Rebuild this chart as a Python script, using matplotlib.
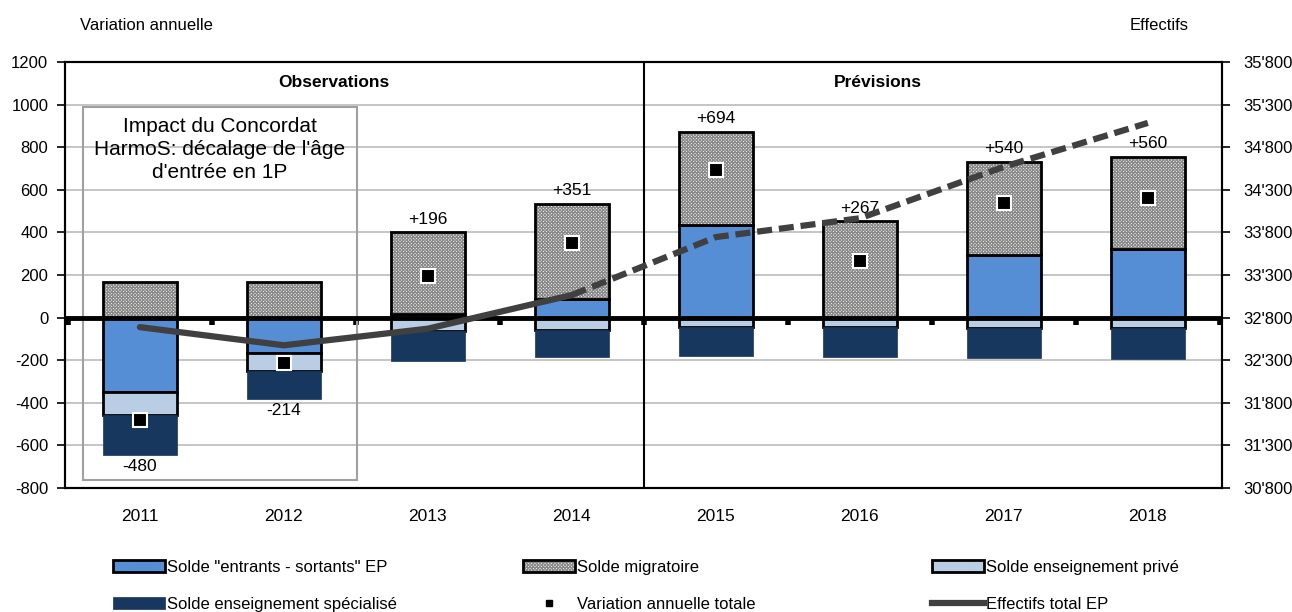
import matplotlib
matplotlib.use("Agg")
import matplotlib.pyplot as plt
import numpy as np
from matplotlib.patches import Rectangle
from matplotlib.lines import Line2D
from matplotlib.ticker import FuncFormatter, FixedLocator

# ---------------- data ----------------
years = ["2011", "2012", "2013", "2014", "2015", "2016", "2017", "2018"]
solde_es = [-350, -168, 16, 85, 437, 0, 294, 320]        # Solde "entrants - sortants" EP
solde_migr = [165, 168, 385, 450, 435, 452, 438, 434]     # Solde migratoire
solde_prive = [-105, -84, -65, -60, -45, -45, -50, -50]   # Solde enseignement privé
solde_spec = [-190, -130, -140, -124, -133, -140, -142, -144]  # Solde enseignement spécialisé
variation_totale = [-480, -214, 196, 351, 694, 267, 540, 560]
effectifs = [32688, 32475, 32670, 33065, 33745, 33966, 34570, 35085]
n_obs = 4  # 2011-2014 observed

left_ticks = list(range(-800, 1201, 200))
right_ticks = list(range(30800, 35801, 500))

# ---------------- style ----------------
FONT = ["Liberation Sans", "DejaVu Sans"]
plt.rcParams["font.family"] = FONT
plt.rcParams["hatch.linewidth"] = 0.9
plt.rcParams["axes.unicode_minus"] = False

C_BLUE = "#558ED5"
C_LIGHT = "#B9CDE5"
C_DARK = "#17375E"
C_LINE = "#404040"
C_GRID = "#C0C0C0"
C_HATCH = "#8A8A8A"
HATCH = "xxxxxxxxxx"
FS = 12

fig = plt.figure(figsize=(12.92, 6.12), dpi=100)
ax = fig.add_axes([65 / 1292, 1 - 488 / 612, 1157 / 1292, 426 / 612])
ax2 = ax.twinx()

x = np.arange(len(years))
w = 0.51

pos_cum = np.zeros(len(years))
neg_cum = np.zeros(len(years))


def stack(vals):
    vals = np.asarray(vals, dtype=float)
    bottom = np.where(vals >= 0, pos_cum, neg_cum)
    pos_cum[:] = pos_cum + np.where(vals >= 0, vals, 0)
    neg_cum[:] = neg_cum + np.where(vals < 0, vals, 0)
    return vals, bottom


v, b = stack(solde_es)
ax.bar(x, v, w, bottom=b, color=C_BLUE, edgecolor="black", linewidth=2, zorder=3)
v, b = stack(solde_migr)
ax.bar(x, v, w, bottom=b, color="white", edgecolor=C_HATCH, hatch=HATCH,
       linewidth=0, zorder=3)
ax.bar(x, v, w, bottom=b, fill=False, edgecolor="black", linewidth=2, zorder=3.1)
v, b = stack(solde_prive)
ax.bar(x, v, w, bottom=b, color=C_LIGHT, edgecolor="black", linewidth=2, zorder=3)
v, b = stack(solde_spec)
ax.bar(x, v, w, bottom=b, color=C_DARK, edgecolor=C_DARK, linewidth=0.5, zorder=3.2)

# markers
ax.plot(x, variation_totale, linestyle="none", marker="s", markersize=10.5,
        markerfacecolor="black", markeredgecolor="white", markeredgewidth=1.5,
        zorder=6)

# value labels
for xi, val, top, bot in zip(x, variation_totale, pos_cum, neg_cum):
    if val >= 0:
        ax.annotate(f"+{val}", (xi, top), xytext=(0, 4), textcoords="offset points",
                    ha="center", va="bottom", fontsize=FS + 0.5, zorder=7)
    else:
        ax.annotate(f"{val}", (xi, bot), xytext=(0, -3), textcoords="offset points",
                    ha="center", va="top", fontsize=FS + 0.5, zorder=7)

# zero line
ax.axhline(0, color="black", linewidth=3.5, zorder=5)

# axes limits / ticks
ax.set_xlim(-0.52, len(years) - 1 + 0.515)
ax.set_ylim(-800, 1200)
ax.yaxis.set_major_locator(FixedLocator(left_ticks))
ax.set_xticks(x)
ax.set_xticklabels(years, fontsize=FS + 0.5)
ax.tick_params(axis="x", length=0, pad=15)
ax.tick_params(axis="y", direction="out", length=6, width=1.2, labelsize=FS, pad=6)
ax.grid(axis="y", color=C_GRID, linewidth=1.3, zorder=0)
ax.set_axisbelow(True)
for s in ax.spines.values():
    s.set_linewidth(1.5)

# boundary ticks on the zero line
sec = ax.secondary_xaxis(0.4)
sec.set_xticks(np.arange(-0.5, len(years), 1.0))
sec.set_xticklabels([])
sec.tick_params(axis="x", direction="out", length=5, width=4, color="black")
sec.spines["bottom"].set_visible(False)

# right axis
ax2.set_ylim(30800, 35800)
ax2.yaxis.set_major_locator(FixedLocator(right_ticks))
ax2.yaxis.set_major_formatter(FuncFormatter(lambda v, p: f"{int(v):,}".replace(",", "'")))
ax2.tick_params(axis="y", direction="out", length=6, width=1.2, labelsize=FS, pad=9)
for s in ax2.spines.values():
    s.set_linewidth(1.5)

# effectifs line
ax2.plot(x[:n_obs], effectifs[:n_obs], color=C_LINE, linewidth=4.5,
         solid_capstyle="round", zorder=4)
ax2.plot(x[n_obs - 1:], effectifs[n_obs - 1:], color=C_LINE, linewidth=4.5,
         dashes=(2.4, 1.1), dash_capstyle="butt", zorder=4)

# separator obs / prévisions
ax.axvline(n_obs - 0.5, color="black", linewidth=1.5, zorder=2)

# section labels
ax.text(0.2325, 0.951, "Observations", transform=ax.transAxes, ha="center",
        va="center", fontsize=FS + 0.5, fontweight="bold")
ax.text(0.7027, 0.951, "Prévisions", transform=ax.transAxes, ha="center",
        va="center", fontsize=FS + 0.5, fontweight="bold")

# impact box
ax.add_patch(Rectangle((18 / 1157, 8 / 426), 274 / 1157, 373 / 426,
                       transform=ax.transAxes, fill=False, edgecolor="#A0A0A0",
                       linewidth=1.5, zorder=2))
ax.text((220 - 65) / 1157, (488 - 117) / 426,
        "Impact du Concordat\nHarmoS: décalage de l'âge\nd'entrée en 1P",
        transform=ax.transAxes, ha="center", va="top", fontsize=15,
        linespacing=1.25, zorder=7)

# axis titles
fig.text(80 / 1292, 1 - 25 / 612, "Variation annuelle", ha="left", va="center", fontsize=FS)
fig.text(1189 / 1292, 1 - 25 / 612, "Effectifs", ha="right", va="center", fontsize=FS)

# legend
h_es = Rectangle((0, 0), 1, 1, facecolor=C_BLUE, edgecolor="black", linewidth=2)
h_migr = (Rectangle((0, 0), 1, 1, facecolor="white", edgecolor=C_HATCH,
                    hatch=HATCH, linewidth=0),
          Rectangle((0, 0), 1, 1, fill=False, edgecolor="black", linewidth=2))
h_priv = Rectangle((0, 0), 1, 1, facecolor=C_LIGHT, edgecolor="black", linewidth=2)
h_spec = Rectangle((0, 0), 1, 1, facecolor=C_DARK, edgecolor=C_DARK, linewidth=0.5)
h_var = Line2D([], [], linestyle="none", marker="s", markersize=5,
               markerfacecolor="black", markeredgecolor="black")
h_eff = Line2D([], [], color=C_LINE, linewidth=4.5)

cols = [
    (113, [h_es, h_spec], ['Solde "entrants - sortants" EP', "Solde enseignement spécialisé"]),
    (523, [h_migr, h_var], ["Solde migratoire", "Variation annuelle totale"]),
    (932, [h_priv, h_eff], ["Solde enseignement privé", "Effectifs total EP"]),
]
for xpix, hs, ls in cols:
    fig.legend(hs, ls, loc="upper left", bbox_to_anchor=(xpix / 1292, 1 - 560 / 612),
               frameon=False, fontsize=FS, handlelength=3.1, handleheight=0.75,
               handletextpad=0.15, labelspacing=1.3, borderpad=0,
               borderaxespad=0)

fig.savefig("out.png", dpi=100)
